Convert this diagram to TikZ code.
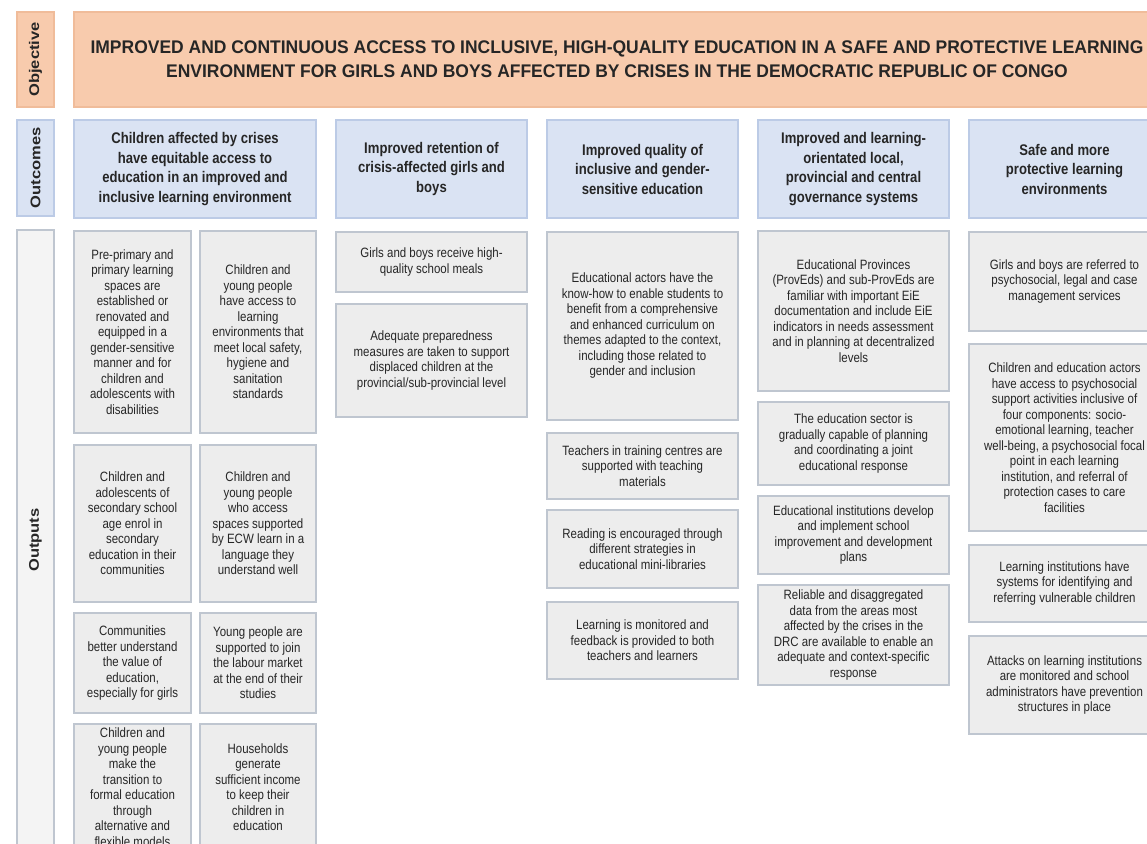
\documentclass[tikz,border=0pt]{standalone}
\usepackage{fontspec}
\setmainfont[FakeStretch=0.85]{Liberation Sans}
\newfontfamily\labelfont[FakeStretch=1.18]{Liberation Sans}
\newfontfamily\objfont[FakeStretch=0.955]{Liberation Sans}
\definecolor{objfill}{HTML}{F8CBAD}
\definecolor{objdraw}{HTML}{F0BC9A}
\definecolor{outcfill}{HTML}{DAE3F3}
\definecolor{outcdraw}{HTML}{BCCBE6}
\definecolor{outpfill}{HTML}{EDEDED}
\definecolor{outpdraw}{HTML}{BFC6D0}
\definecolor{txt}{HTML}{262626}
\tikzset{
  boxbase/.style={rectangle, inner sep=0pt, line width=1.2pt, align=center, text=txt},
  labelbox/.style={boxbase, font=\labelfont\bfseries\fontsize{14}{16}\selectfont, rotate=90},
  objbox/.style={boxbase, fill=objfill, draw=objdraw, font=\objfont\bfseries\fontsize{18.3}{24}\selectfont},
  outcbox/.style={boxbase, fill=outcfill, draw=outcdraw, font=\bfseries\fontsize{15.4}{19.5}\selectfont},
  outpbox/.style={boxbase, fill=outpfill, draw=outpdraw, font=\fontsize{13.5}{15.5}\selectfont},
}
\begin{document}
\begin{tikzpicture}[x=1pt, y=-1pt]
\useasboundingbox (0,0) rectangle (1147,843);
\clip (0,0) rectangle (1147,843);
\fill[white] (0,0) rectangle (1147,843);
% left labels
\node[labelbox, fill=objfill, draw=objdraw, minimum width=95, minimum height=37] (lobj) at (35.5,59.5) {Objective};
\node[labelbox, fill=outcfill, draw=outcdraw, minimum width=96, minimum height=37] (loutc) at (35.5,168) {Outcomes};
\node[labelbox, fill=outpfill!60, draw=outpdraw, minimum width=620, minimum height=37] (loutp) at (35.5,540) {Outputs};
% objective
\node[objbox, minimum width=1086, minimum height=95] (obj) at (617,59.5) {IMPROVED AND CONTINUOUS ACCESS TO INCLUSIVE, HIGH-QUALITY EDUCATION IN A SAFE AND PROTECTIVE LEARNING\\ENVIRONMENT FOR GIRLS AND BOYS AFFECTED BY CRISES IN THE DEMOCRATIC REPUBLIC OF CONGO};
% outcomes
\node[outcbox, minimum width=242, minimum height=98] (oc1) at (195,169) {Children affected by crises\\have equitable access to\\education in an improved and\\inclusive learning environment};
\node[outcbox, minimum width=191, minimum height=98] (oc2) at (431.5,169) {Improved retention of\\crisis-affected girls and\\boys};
\node[outcbox, minimum width=191, minimum height=98] (oc3) at (642.5,169) {Improved quality of\\inclusive and gender-\\sensitive education};
\node[outcbox, minimum width=191, minimum height=98] (oc4) at (853.5,169) {Improved and learning-\\orientated local,\\provincial and central\\governance systems};
\node[outcbox, minimum width=191, minimum height=98] (oc5) at (1064.5,169) {Safe and more\\protective learning\\environments};
% outputs column 1
\node[outpbox, minimum width=117, minimum height=202] (p1a1) at (132.5,332) {Pre-primary and\\primary learning\\spaces are\\established or\\renovated and\\equipped in a\\gender-sensitive\\manner and for\\children and\\adolescents with\\disabilities};
\node[outpbox, minimum width=116, minimum height=202] (p1b1) at (258,332) {Children and\\young people\\have access to\\learning\\environments that\\meet local safety,\\hygiene and\\sanitation\\standards};
\node[outpbox, minimum width=117, minimum height=157] (p1a2) at (132.5,523.5) {Children and\\adolescents of\\secondary school\\age enrol in\\secondary\\education in their\\communities};
\node[outpbox, minimum width=116, minimum height=157] (p1b2) at (258,523.5) {Children and\\young people\\who access\\spaces supported\\by ECW learn in a\\language they\\understand well};
\node[outpbox, minimum width=117, minimum height=100] (p1a3) at (132.5,663) {Communities\\better understand\\the value of\\education,\\especially for girls};
\node[outpbox, minimum width=116, minimum height=100] (p1b3) at (258,663) {Young people are\\supported to join\\the labour market\\at the end of their\\studies};
\node[outpbox, minimum width=117, minimum height=126] (p1a4) at (132.5,787) {Children and\\young people\\make the\\transition to\\formal education\\through\\alternative and\\flexible models};
\node[outpbox, minimum width=116, minimum height=126] (p1b4) at (258,787) {Households\\generate\\sufficient income\\to keep their\\children in\\education};
% column 2
\node[outpbox, minimum width=191, minimum height=60] (p21) at (431.5,262) {Girls and boys receive high-\\quality school meals};
\node[outpbox, minimum width=191, minimum height=113] (p22) at (431.5,360.5) {Adequate preparedness\\measures are taken to support\\displaced children at the\\provincial/sub-provincial level};
% column 3
\node[outpbox, minimum width=191, minimum height=188] (p31) at (642.5,326) {Educational actors have the\\know-how to enable students to\\benefit from a comprehensive\\and enhanced curriculum on\\themes adapted to the context,\\including those related to\\gender and inclusion};
\node[outpbox, minimum width=191, minimum height=66] (p32) at (642.5,466) {Teachers in training centres are\\supported with teaching\\materials};
\node[outpbox, minimum width=191, minimum height=78] (p33) at (642.5,549) {Reading is encouraged through\\different strategies in\\educational mini-libraries};
\node[outpbox, minimum width=191, minimum height=77] (p34) at (642.5,640.5) {Learning is monitored and\\feedback is provided to both\\teachers and learners};
% column 4
\node[outpbox, minimum width=191, minimum height=160] (p41) at (853.5,311) {Educational Provinces\\(ProvEds) and sub-ProvEds are\\familiar with important EiE\\documentation and include EiE\\indicators in needs assessment\\and in planning at decentralized\\levels};
\node[outpbox, minimum width=191, minimum height=83] (p42) at (853.5,443.5) {The education sector is\\gradually capable of planning\\and coordinating a joint\\educational response};
\node[outpbox, minimum width=191, minimum height=78] (p43) at (853.5,535) {Educational institutions develop\\and implement school\\improvement and development\\plans};
\node[outpbox, minimum width=191, minimum height=100] (p44) at (853.5,635) {Reliable and disaggregated\\data from the areas most\\affected by the crises in the\\DRC are available to enable an\\adequate and context-specific\\response};
% column 5
\node[outpbox, minimum width=191, minimum height=99] (p51) at (1064.5,281.5) {Girls and boys are referred to\\psychosocial, legal and case\\management services};
\node[outpbox, minimum width=191, minimum height=187] (p52) at (1064.5,437.5) {Children and education actors\\have access to psychosocial\\support activities inclusive of\\four components: socio-\\emotional learning, teacher\\well-being, a psychosocial focal\\point in each learning\\institution, and referral of\\protection cases to care\\facilities};
\node[outpbox, minimum width=191, minimum height=77] (p53) at (1064.5,583.5) {Learning institutions have\\systems for identifying and\\referring vulnerable children};
\node[outpbox, minimum width=191, minimum height=98] (p54) at (1064.5,685) {Attacks on learning institutions\\are monitored and school\\administrators have prevention\\structures in place};
\end{tikzpicture}
\end{document}
